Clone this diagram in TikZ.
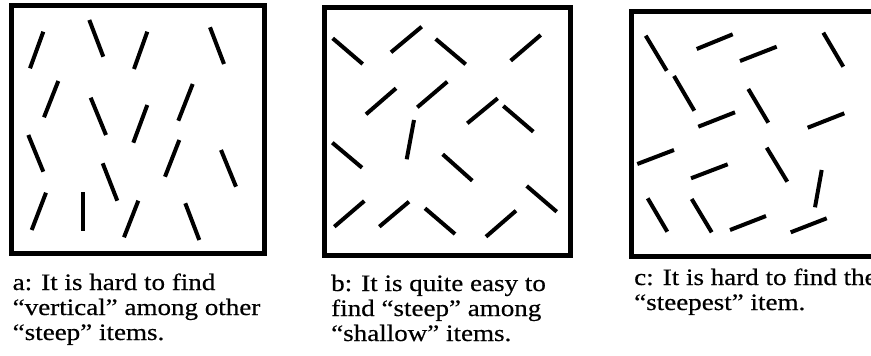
\documentclass[tikz,border=0pt]{standalone}
\usepackage{fontspec}
\setmainfont{Liberation Serif}[FakeStretch=1.15,FakeBold=0.5]
\begin{document}
\begin{tikzpicture}[x=1pt,y=-1pt,
  seg/.style={line width=4pt},
  panelframe/.style={line width=5pt},
  caption/.style={anchor=base west, inner sep=0pt, font=\fontsize{23.5}{25}\selectfont}]
\useasboundingbox (0,0) rectangle (871,356);
% ---------- panel a ----------
\draw[panelframe] (11.5,5.5) rectangle (264.5,253.5);
\draw[seg] (43.3,31.7) -- (30,68.3);
\draw[seg] (89.3,20) -- (103.3,56.7);
\draw[seg] (147.3,31.7) -- (134,69);
\draw[seg] (210,27.3) -- (224,64);
\draw[seg] (58.3,81) -- (44,117.3);
\draw[seg] (90.7,97.7) -- (106,135);
\draw[seg] (147.3,105) -- (133.3,142.7);
\draw[seg] (192.7,84) -- (178.3,120.7);
\draw[seg] (28.3,135) -- (43.3,171.7);
\draw[seg] (102.7,163.3) -- (117.3,200.7);
\draw[seg] (179.3,140) -- (165,176.7);
\draw[seg] (221,150) -- (236,186.7);
\draw[seg] (46,192.7) -- (31.7,230);
\draw[seg] (82.7,192.3) -- (82.7,231);
\draw[seg] (138.3,200.7) -- (124,237.3);
\draw[seg] (185.3,203.3) -- (199.3,240);
% ---------- panel b ----------
\draw[panelframe] (324.5,7.5) rectangle (570.5,255.5);
\draw[seg] (332.7,38.3) -- (362.7,64);
\draw[seg] (391,52.3) -- (421.7,26.7);
\draw[seg] (435.7,39) -- (465.7,64.3);
\draw[seg] (510.7,60.7) -- (540.7,35);
\draw[seg] (366,114.3) -- (396,88.3);
\draw[seg] (417.3,107.3) -- (447.3,81.7);
\draw[seg] (467.3,123.3) -- (497.7,98.3);
\draw[seg] (503.3,106) -- (533.3,131.7);
\draw[seg] (414,120) -- (406.7,159.3);
\draw[seg] (332.3,142.7) -- (362,167.7);
\draw[seg] (442.7,154.3) -- (472.3,180.7);
\draw[seg] (526.7,186) -- (556.7,211.7);
\draw[seg] (334.3,226.7) -- (364.3,201);
\draw[seg] (379.3,226.7) -- (409,201.7);
\draw[seg] (425,208.3) -- (455,234);
\draw[seg] (486,236.7) -- (516,210.7);
% ---------- panel c ----------
\draw[panelframe] (871,11.5) -- (631.5,11.5) -- (631.5,256.5) -- (871,256.5);
\draw[seg] (645.7,35.7) -- (666.7,70.7);
\draw[seg] (696.7,49) -- (732.7,34.3);
\draw[seg] (740,61) -- (776.7,46.7);
\draw[seg] (823.3,32.7) -- (843.3,66.7);
\draw[seg] (674,76) -- (694.3,110.7);
\draw[seg] (748.3,89) -- (768.3,122.7);
\draw[seg] (698.3,126.7) -- (735,112.3);
\draw[seg] (807.7,127.7) -- (844.3,113.3);
\draw[seg] (637.3,164) -- (674,150);
\draw[seg] (766.7,147.7) -- (787.3,181.7);
\draw[seg] (691,178.3) -- (727.7,164.3);
\draw[seg] (821.7,170) -- (815,207.3);
\draw[seg] (647.7,198.3) -- (667.3,231.7);
\draw[seg] (691.7,199) -- (711.7,232.3);
\draw[seg] (730,230) -- (766,216);
\draw[seg] (790.7,232.3) -- (826.7,218.3);
% ---------- captions ----------
\node[caption] (a1) at (12.5,290) {a: It is hard to find};
\node[caption] (a2) at (12.5,315) {“vertical” among other};
\node[caption] (a3) at (12.5,340) {“steep” items.};
\node[caption] (b1) at (331,291) {b: It is quite easy to};
\node[caption] (b2) at (331,316) {find “steep” among};
\node[caption] (b3) at (331,341) {“shallow” items.};
\node[caption] (c1) at (634,285) {c: It is hard to find the};
\node[caption] (c2) at (634,310) {“steepest” item.};
\end{tikzpicture}
\end{document}
